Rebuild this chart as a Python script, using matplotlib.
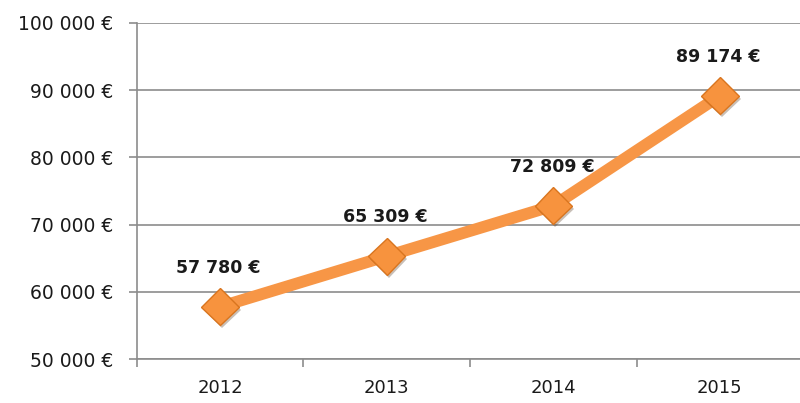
import matplotlib.pyplot as plt
import matplotlib.patheffects as pe
from matplotlib.ticker import FixedLocator, FuncFormatter

years = ['2012', '2013', '2014', '2015']
revenue = [57780, 65309, 72809, 89174]
y_ticks = [50000, 60000, 70000, 80000, 90000, 100000]

def euro(v):
    return f"{int(v):,} €".replace(",", " ")

fig = plt.figure(figsize=(8, 4.03), dpi=100)
ax = fig.add_axes([0.171, 0.109, 0.833, 0.834])

x = range(len(years))
ax.plot(x, revenue, color='#F79646', linewidth=8.5, solid_capstyle='butt', zorder=3)
ax.plot(x, revenue, linestyle='none', marker='D', markersize=19,
        markerfacecolor='#F7933E', markeredgecolor='#D9751F', markeredgewidth=1.0,
        zorder=4,
        path_effects=[pe.SimplePatchShadow(offset=(1.5, -2), alpha=0.3), pe.Normal()])

for xi, v in zip(x, revenue):
    ax.annotate(euro(v), (xi, v), xytext=(-1, 28), textcoords='offset points',
                ha='center', va='center', fontsize=12.5, fontweight='bold',
                color='#1a1a1a')

ax.set_xlim(-0.5, 3.5)
ax.set_ylim(50000, 100000)
ax.set_yticks(y_ticks)
ax.yaxis.set_major_formatter(FuncFormatter(lambda v, p: euro(v)))
ax.set_xticks(list(x))
ax.set_xticklabels(years)
ax.xaxis.set_minor_locator(FixedLocator([-0.5, 0.5, 1.5, 2.5, 3.5]))

ax.grid(axis='y', color='#8c8c8c', linewidth=1.2, zorder=0)
ax.set_axisbelow(True)
for s in ['top', 'right']:
    ax.spines[s].set_visible(False)
for s in ['left', 'bottom']:
    ax.spines[s].set_color('#8c8c8c')
    ax.spines[s].set_linewidth(1.2)

ax.tick_params(axis='y', length=6, width=1.2, color='#8c8c8c', labelsize=13.5,
               labelcolor='#1a1a1a', pad=11)
ax.tick_params(axis='x', which='major', length=0, labelsize=13,
               labelcolor='#1a1a1a', pad=14)
ax.tick_params(axis='x', which='minor', length=6, width=1.2, color='#8c8c8c')

fig.savefig('out.png', dpi=100)
